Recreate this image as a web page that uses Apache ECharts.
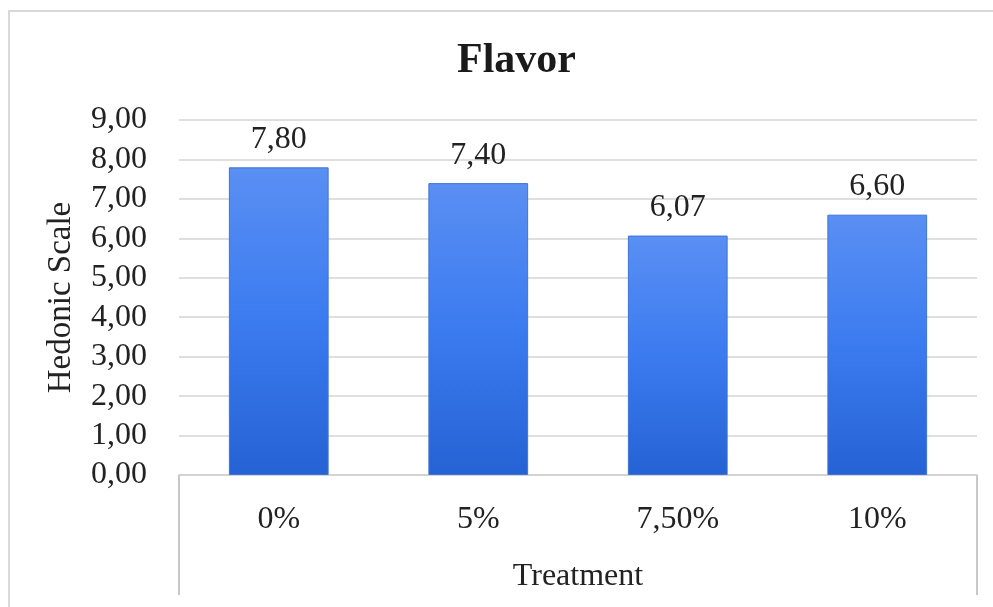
<!DOCTYPE html>
<html>
<head>
<meta charset="utf-8">
<script src="https://cdn.jsdelivr.net/npm/echarts@6/dist/echarts.min.js"></script>
<style>
html,body{margin:0;padding:0;background:#fff;overflow:hidden;}
#frame{position:absolute;left:8px;top:10px;width:1010px;height:640px;border:2px solid #d9d9d9;box-sizing:border-box;}
#chart{position:absolute;left:0;top:0;width:993px;height:607px;}
</style>
</head>
<body>
<div id="frame"></div>
<div id="chart"></div>
<script>
const categories = ['0%', '5%', '7,50%', '10%'];
const values = [7.80, 7.40, 6.07, 6.60];
const titleText = 'Flavor';
const xName = 'Treatment';
const yName = 'Hedonic Scale';

const fmt = v => Number(v).toFixed(2).replace('.', ',');
const serif = '"Liberation Serif", "DejaVu Serif", serif';

const chart = echarts.init(document.getElementById('chart'), null, {renderer: 'canvas'});
chart.setOption({
  backgroundColor: 'transparent',
  animation: false,
  title: {
    text: titleText,
    left: 452,
    top: 35,
    textStyle: {fontFamily: serif, fontWeight: 'bold', fontSize: 42, color: '#1a1a1a'}
  },
  grid: {left: 179, right: 16, top: 120, bottom: 132},
  xAxis: {
    type: 'category',
    data: categories,
    axisLine: {show: true, lineStyle: {color: '#d0d0d0', width: 1.5}},
    axisTick: {show: true, length: 120, interval: i => i === 0, lineStyle: {color: '#c8c8c8', width: 2}},
    axisLabel: {fontFamily: serif, fontSize: 32, color: '#222', margin: 29},
    name: xName,
    nameLocation: 'middle',
    nameGap: 86,
    nameTextStyle: {fontFamily: serif, fontSize: 32, color: '#222'}
  },
  yAxis: {
    type: 'value',
    min: 0, max: 9, interval: 1,
    axisLine: {show: false},
    axisTick: {show: false},
    splitLine: {lineStyle: {color: '#d4d4d4', width: 1.5}},
    axisLabel: {fontFamily: serif, fontSize: 32, color: '#222', margin: 32, formatter: fmt},
    name: yName,
    nameLocation: 'middle',
    nameGap: 101,
    nameTextStyle: {fontFamily: serif, fontSize: 33, color: '#222'}
  },
  series: [{
    type: 'bar',
    data: values,
    barWidth: '50%',
    itemStyle: {
      color: new echarts.graphic.LinearGradient(0, 0, 0, 1, [
        {offset: 0, color: '#5a8ff3'},
        {offset: 0.5, color: '#3b7bf0'},
        {offset: 1, color: '#2562d4'}
      ]),
      borderColor: '#3f74d8',
      borderWidth: 1
    },
    label: {
      show: true,
      position: 'top',
      distance: 12,
      fontFamily: serif,
      fontSize: 32,
      color: '#222',
      formatter: p => fmt(p.value)
    }
  }]
});
</script>
</body>
</html>
